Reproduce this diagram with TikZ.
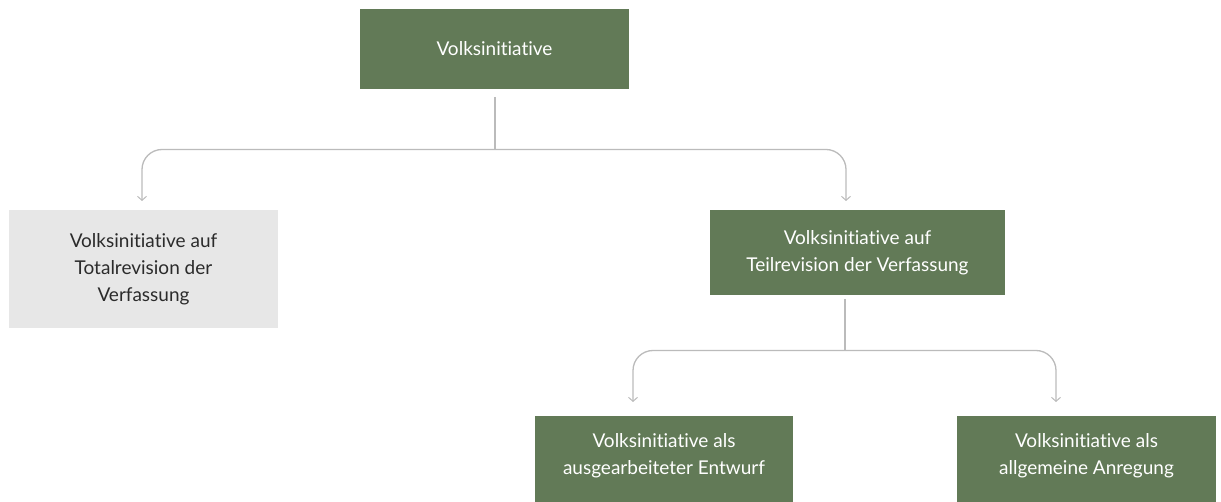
\documentclass[tikz,border=0pt]{standalone}
\usepackage{fontspec}
\setmainfont{Lato}[Ligatures={NoCommon}]
\usetikzlibrary{arrows.meta}
\definecolor{boxgreen}{HTML}{627A57}
\definecolor{boxgrey}{HTML}{E7E7E7}
\definecolor{linegrey}{HTML}{BBBBBB}
\definecolor{txtdark}{HTML}{2B2B2B}
\tikzset{
  boxfont/.style={font=\fontsize{19}{27}\selectfont},
  greenbox/.style={fill=boxgreen, text=white, align=center, inner sep=0pt, boxfont},
  greybox/.style={fill=boxgrey, text=txtdark, align=center, inner sep=0pt, boxfont},
  conn/.style={draw=linegrey, line width=1.3pt, rounded corners=20pt},
  arr/.style={conn, -{Straight Barb[length=4pt,width=9pt,line width=1pt]}},
}
\begin{document}
\begin{tikzpicture}[x=1pt,y=-1pt]
\useasboundingbox (0,0) rectangle (1221,502);
\node[greenbox, minimum width=269pt, minimum height=80pt] (top) at (494.5,49) {Volksinitiative};
\node[greybox, minimum width=269pt, minimum height=118pt] (total) at (143.5,269) {Volksinitiative auf\\Totalrevision der\\Verfassung};
\node[greenbox, minimum width=295pt, minimum height=85pt] (teil) at (857.5,252.5) {Volksinitiative auf\\Teilrevision der Verfassung};
\node[greenbox, minimum width=258pt, minimum height=86pt] (entw) at (664,459) {};
\node[greenbox, minimum width=259pt, minimum height=86pt] (anr) at (1086.5,459) {};
\node[text=white, align=center, boxfont] (entwt) at (664,455.5) {Volksinitiative als\\ausgearbeiteter Entwurf};
\node[text=white, align=center, boxfont] (anrt) at (1086.5,455.5) {Volksinitiative als\\allgemeine Anregung};
% connectors level 1
\coordinate (j1) at (495,149.5);
\coordinate (s1) at (495,97);
\coordinate (t1) at (142,201);
\coordinate (t2) at (846,201);
\draw[conn] (s1) -- (j1);
\draw[arr] (j1) -| (t1);
\draw[arr] (j1) -| (t2);
% connectors level 2
\coordinate (j2) at (845,350.5);
\coordinate (s2) at (845,299);
\coordinate (t3) at (633,402);
\coordinate (t4) at (1056,402);
\draw[conn] (s2) -- (j2);
\draw[arr] (j2) -| (t3);
\draw[arr] (j2) -| (t4);
\end{tikzpicture}
\end{document}
